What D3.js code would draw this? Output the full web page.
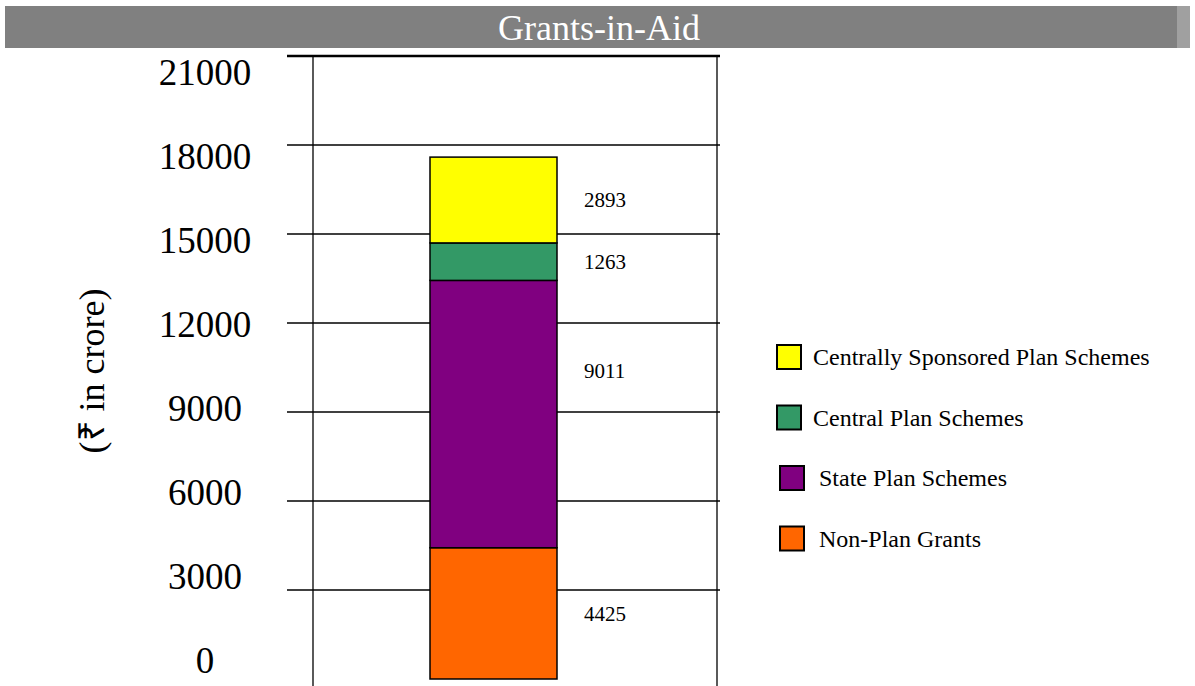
<!DOCTYPE html>
<html><head><meta charset="utf-8">
<script src="https://cdn.jsdelivr.net/npm/d3@7"></script>
<style>body{margin:0;background:#fff;}svg{display:block;}</style>
</head><body>
<svg id="c" width="1195" height="686"></svg>
<script>
const title = "Grants-in-Aid";
const yAxisTitle = "(₹ in crore)";
const categories = ["Non-Plan Grants", "State Plan Schemes", "Central Plan Schemes", "Centrally Sponsored Plan Schemes"];
const values = [4425, 9011, 1263, 2893];
const colors = ["#FF6600", "#800080", "#339966", "#FFFF00"];
const tickValues = [0, 3000, 6000, 9000, 12000, 15000, 18000, 21000];
const legendOrder = ["Centrally Sponsored Plan Schemes", "Central Plan Schemes", "State Plan Schemes", "Non-Plan Grants"];

const svg = d3.select("#c");
const serif = "'Liberation Serif','Times New Roman',Times,serif";

// title bar
svg.append("rect").attr("x", 5).attr("y", 6).attr("width", 1172).attr("height", 42).attr("fill", "#808080");
svg.append("rect").attr("x", 1177).attr("y", 6).attr("width", 13).attr("height", 42).attr("fill", "#a0a0a0");
svg.append("text").attr("x", 599).attr("y", 40).attr("text-anchor", "middle")
  .attr("font-family", serif).attr("font-size", 36).attr("fill", "#fff").text(title);

const y = d3.scaleLinear().domain([0, 21000]).range([679, 56]);
const yLabel = d3.scaleLinear().domain([0, 21000]).range([660, 72]);
const x = d3.scaleBand().domain(["Grants"]).range([430, 557]).padding(0);

// gridlines
const grid = svg.append("g");
grid.selectAll("line").data(tickValues.filter(d => d > 0)).join("line")
  .attr("x1", 287).attr("x2", 720)
  .attr("y1", d => y(d)).attr("y2", d => y(d))
  .attr("stroke", "#000").attr("stroke-width", d => d === 21000 ? 2.5 : 1.5);

// vertical borders
svg.append("line").attr("x1", 313).attr("x2", 313).attr("y1", y(21000)).attr("y2", 686).attr("stroke", "#000").attr("stroke-width", 1.3);
svg.append("line").attr("x1", 717).attr("x2", 717).attr("y1", y(21000)).attr("y2", 686).attr("stroke", "#000").attr("stroke-width", 1.3);

// tick labels
svg.append("g").selectAll("text").data(tickValues).join("text")
  .attr("x", 205).attr("y", d => yLabel(d)).attr("dy", "0.35em")
  .attr("text-anchor", "middle").attr("font-family", serif).attr("font-size", 37)
  .attr("fill", "#000").text(d => d);

// axis title
svg.append("text").attr("transform", "translate(104,371) rotate(-90)")
  .attr("text-anchor", "middle").attr("font-family", serif).attr("font-size", 36)
  .attr("fill", "#000").text(yAxisTitle);

// stacked bar
let cum = 0;
const segs = values.map((v, i) => { const s = {cat: categories[i], v, y0: cum, y1: cum + v, color: colors[i]}; cum += v; return s; });
const bx = x("Grants"), bw = x.bandwidth();
svg.append("g").selectAll("rect").data(segs).join("rect")
  .attr("x", bx).attr("width", bw)
  .attr("y", d => y(d.y1)).attr("height", d => y(d.y0) - y(d.y1))
  .attr("fill", d => d.color).attr("stroke", "#000").attr("stroke-width", 1.5);

// value labels
svg.append("g").selectAll("text").data(segs).join("text")
  .attr("x", bx + bw + 27)
  .attr("y", d => Math.min((y(d.y0) + y(d.y1)) / 2, y(d.y1) + 90))
  .attr("dy", "0.35em").attr("font-family", serif).attr("font-size", 21).attr("fill", "#000")
  .text(d => d.v);

// legend
const colorOf = d3.scaleOrdinal().domain(categories).range(colors);
const lg = svg.append("g").selectAll("g").data(legendOrder).join("g")
  .attr("transform", (d, i) => `translate(${777 + (i >= 2 ? 3 : 0)},${345 + i * 60.5})`);
lg.append("rect").attr("width", 24).attr("height", 24).attr("fill", d => colorOf(d))
  .attr("stroke", "#000").attr("stroke-width", 2);
lg.append("text").attr("x", (d, i) => i >= 2 ? 39 : 36).attr("y", 12).attr("dy", "0.35em")
  .attr("font-family", serif).attr("font-size", 24).attr("fill", "#000").text(d => d);
</script>
</body></html>
